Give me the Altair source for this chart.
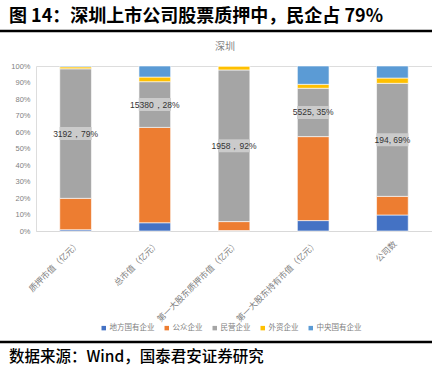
import altair as alt
import pandas as pd

categories = ["质押市值（亿元）", "总市值（亿元）", "第一大股东质押市值（亿元）", "第一大股东持有市值（亿元）", "公司数"]
series = ["地方国有企业", "公众企业", "民营企业", "外资企业", "中央国有企业"]
colors = ["#4472C4", "#ED7D31", "#A5A5A5", "#FFC000", "#5B9BD5"]

# percent shares per category, in series order
local_soe = [0.8, 5.0, 0.3, 6.3, 9.7]
public = [19.0, 57.8, 5.4, 50.9, 11.3]
private = [78.5, 27.7, 91.9, 29.3, 68.5]
foreign = [1.2, 2.8, 2.4, 2.4, 3.2]
central_soe = [0.5, 6.7, 0.0, 11.1, 7.3]
labels = ["3192，79%", "15380，28%", "1958，92%", "5525, 35%", "194, 69%"]

values = [local_soe, public, private, foreign, central_soe]
rows = []
for si, s in enumerate(series):
    for ci, c in enumerate(categories):
        rows.append({"cat": c, "series": s, "idx": si, "v": values[si][ci]})
df = pd.DataFrame(rows)

lab_df = pd.DataFrame({
    "cat": categories,
    "mid": [local_soe[i] + public[i] + private[i] / 2 for i in range(len(categories))],
    "label": labels,
})

xaxis = alt.Axis(labelAngle=-45, labelFontSize=8.5, labelColor="#7f7f7f",
                 labelFont="Noto Sans CJK SC", ticks=False, domainColor="#d9d9d9",
                 labelPadding=8, labelLimit=200, title=None)
yaxis = alt.Axis(values=list(range(0, 101, 10)), labelExpr="datum.value + '%'",
                 grid=False, domain=False, ticks=False, labelFontSize=7.5,
                 labelOverlap=False, labelColor="#7f7f7f", labelPadding=6,
                 labelFont="Liberation Sans", title=None)
xscale = alt.Scale(paddingInner=0.6, paddingOuter=0.3)
yscale = alt.Scale(domain=[0, 100], nice=False)

bars = alt.Chart(df).mark_bar(stroke="white", strokeWidth=0.6).encode(
    x=alt.X("cat:N", sort=categories, scale=xscale, axis=xaxis),
    y=alt.Y("v:Q", stack="zero", scale=yscale, axis=yaxis),
    color=alt.Color("series:N", scale=alt.Scale(domain=series, range=colors),
                    legend=alt.Legend(title=None, orient="none", direction="horizontal",
                                      legendX=64, legendY=258, symbolType="square",
                                      symbolSize=20, symbolStrokeWidth=0, labelFontSize=7.5,
                                      labelColor="#7f7f7f", labelFont="Noto Sans CJK SC",
                                      columnPadding=8, symbolOffset=0, labelOffset=2)),
    order=alt.Order("idx:Q", sort="ascending"),
)

boxes = alt.Chart(lab_df).mark_tick(color="#CBCBCB", thickness=13, size=32, opacity=1).encode(
    x=alt.X("cat:N", sort=categories, scale=xscale, axis=xaxis),
    y=alt.Y("mid:Q", scale=yscale, axis=yaxis),
)

texts = alt.Chart(lab_df).mark_text(fontSize=8.5, color="#333333", font="Liberation Sans").encode(
    x=alt.X("cat:N", sort=categories, scale=xscale, axis=xaxis),
    y=alt.Y("mid:Q", scale=yscale, axis=yaxis),
    text="label:N",
)

sub = alt.Chart(pd.DataFrame({"t": ["深圳"]})).mark_text(
    fontSize=10, color="#7f7f7f", font="Noto Sans CJK SC").encode(
    x=alt.value(189), y=alt.value(-19), text="t:N")

header = alt.Chart(pd.DataFrame({"t": ["图 14：深圳上市公司股票质押中，民企占 79%"]})).mark_text(
    fontSize=18, fontWeight="bold", color="#000000", align="left", baseline="middle",
    font="Noto Sans CJK SC").encode(
    x=alt.value(-27), y=alt.value(-49), text="t:N")

footer = alt.Chart(pd.DataFrame({"t": ["数据来源：Wind，国泰君安证券研究"]})).mark_text(
    fontSize=15.5, fontWeight=500, color="#000000", align="left", baseline="middle",
    font="Noto Sans CJK SC").encode(
    x=alt.value(-27), y=alt.value(291), text="t:N")

rule_top = alt.Chart(pd.DataFrame({"k": [0]})).mark_rule(color="#000000", strokeWidth=2.5).encode(
    x=alt.value(-36), x2=alt.value(396), y=alt.value(-35))
rule_bottom = alt.Chart(pd.DataFrame({"k": [0]})).mark_rule(color="#000000", strokeWidth=2.5).encode(
    x=alt.value(-36), x2=alt.value(396), y=alt.value(276))

chart = alt.layer(bars, boxes, texts, sub, header, footer, rule_top, rule_bottom).properties(
    width=396, height=165,
    padding={"left": 36, "top": 66, "right": 0, "bottom": 144},
    autosize=alt.AutoSizeParams(type="none"),
).configure_view(stroke=None).configure(background="white")

chart.save("out.html", embed_options={"renderer": "svg", "actions": False})
